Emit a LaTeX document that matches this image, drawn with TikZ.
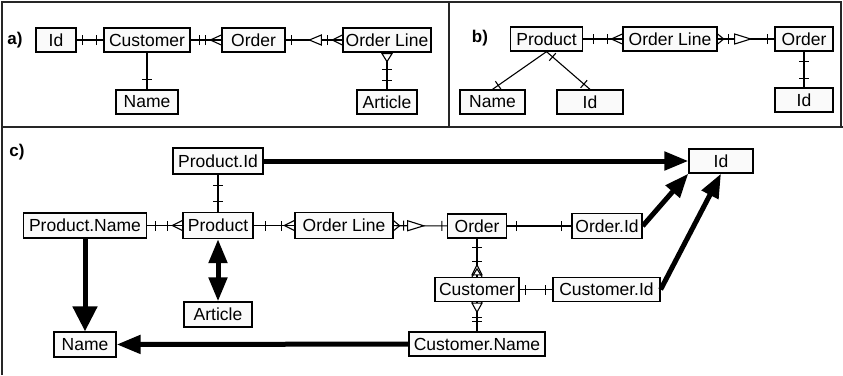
\documentclass[tikz,border=0pt]{standalone}
\usepackage{fontspec}
\setmainfont{Liberation Sans}
\usetikzlibrary{arrows.meta,decorations.markings}
\begin{document}
\begin{tikzpicture}[x=1pt,y=-1pt]
\tikzset{
  ent/.style={draw=black, line width=1.3pt, fill=black!2, inner sep=0pt,
    minimum height=24pt, font=\fontsize{17.5}{17.5}\selectfont},
  tag/.style={inner sep=0pt, font=\fontsize{17}{17}\selectfont\bfseries},
  frame/.style={line width=1.8pt, black!85},
  link/.style={line width=1.1pt},
  barmk/.style={postaction={decorate,decoration={markings,
    mark=at position #1 with {\draw[line width=1.1pt] (0pt,-5pt)--(0pt,5pt);}}}},
  crowend/.style={postaction={decorate,decoration={markings,
    mark=at position -#1 with {\draw[line width=1.1pt] (#1,5pt)--(0pt,0pt)--(#1,-5pt);}}}},
  crowstart/.style={postaction={decorate,decoration={markings,
    mark=at position #1 with {\draw[line width=1.1pt] (-#1,5pt)--(0pt,0pt)--(-#1,-5pt);}}}},
  trifwd/.style 2 args={postaction={decorate,decoration={markings,
    mark=at position #1 with {\draw[line width=1.1pt,fill=white] (0pt,0pt)--(-#2,5pt)--(-#2,-5pt)--cycle;}}}},
  tribwd/.style 2 args={postaction={decorate,decoration={markings,
    mark=at position #1 with {\draw[line width=1.1pt,fill=white] (0pt,0pt)--(#2,5pt)--(#2,-5pt)--cycle;}}}},
  heavy/.style={line width=5pt, -{Triangle[length=24pt,width=18pt]}},
}
\useasboundingbox (0,0) rectangle (843,375);
\fill[white] (0,0) rectangle (843,375);

% panel frame
\draw[frame] (2,375) -- (2,2) -- (841,2) -- (841,127);
\draw[frame] (2,127) -- (843,127);
\draw[frame] (449,2) -- (449,127);

% ---------- panel a ----------
\node[tag] (la) at (15,40) {a)};
\node[ent, minimum width=40pt] (aId) at (56,40) {Id};
\node[ent, minimum width=86pt] (aCust) at (147,40) {Customer};
\node[ent, minimum width=63pt] (aOrder) at (253.5,40) {Order};
\node[ent, minimum width=88pt] (aOL) at (387,40) {Order Line};
\node[ent, minimum width=62pt] (aName) at (147,102) {Name};
\node[ent, minimum width=60pt] (aArt) at (387,102) {Article};

\draw[link, barmk=6pt, barmk=-7pt] (aId) -- (aCust);
\draw[link, barmk=-22pt, barmk=-16pt, crowend=11pt] (aCust) -- (aOrder);
\draw[link, barmk=6pt, tribwd={-33pt}{12pt}, barmk=-15pt, crowend=10pt] (aOrder) -- (aOL);
\draw[link, crowstart=8pt, trifwd={9pt}{8pt}, barmk=17pt, barmk=-9pt] (aOL) -- (aArt);
\draw[link, barmk=-10pt] (aCust) -- (aName);

% ---------- panel b ----------
\node[tag] (lb) at (480,38) {b)};
\node[ent, minimum width=72pt] (bProd) at (546.5,39) {Product};
\node[ent, minimum width=94pt] (bOL) at (670,39) {Order Line};
\node[ent, minimum width=58pt] (bOrder) at (804,39) {Order};
\node[ent, minimum width=65pt] (bName) at (492.5,102) {Name};
\node[ent, minimum width=66pt] (bId1) at (590,102) {Id};
\node[ent, minimum width=58pt] (bId2) at (804,100) {Id};

\draw[link, barmk=10pt, barmk=-15pt, crowend=11pt] (bProd) -- (bOL);
\draw[link, crowstart=6pt, barmk=11pt, trifwd={33pt}{16pt}, barmk=-7pt] (bOL) -- (bOrder);
\draw[link, barmk=-7pt] (bProd.south) -- (bName.north);
\draw[link, barmk=8pt, barmk=-8pt] (bProd.south) -- (bId1.north);
\draw[link, barmk=10pt, barmk=-9pt] (bOrder) -- (bId2);

% ---------- panel c ----------
\node[tag] (lc) at (17,152) {c)};
\node[ent, minimum width=90pt, minimum height=26pt] (cPId) at (218,161) {Product.Id};
\node[ent, minimum width=64pt] (cId) at (721,161) {Id};
\node[ent, minimum width=123pt, minimum height=25pt] (cPName) at (85,225.5) {Product.Name};
\node[ent, minimum width=70pt, minimum height=26pt] (cProd) at (218,225.5) {Product};
\node[ent, minimum width=98pt, minimum height=26pt] (cOL) at (344,225.5) {Order Line};
\node[ent, minimum width=59pt] (cOrder) at (477,226) {Order};
\node[ent, minimum width=70pt, minimum height=25pt] (cOId) at (607,226) {Order.Id};
\node[ent, minimum width=84pt] (cCust) at (477,289.5) {Customer};
\node[ent, minimum width=107pt] (cCId) at (606.5,289.5) {Customer.Id};
\node[ent, minimum width=136pt] (cCName) at (477,344) {Customer.Name};
\node[ent, minimum width=68pt, minimum height=25pt] (cArt) at (218,314.5) {Article};
\node[ent, minimum width=62pt, minimum height=25pt] (cName) at (85,344.5) {Name};

\draw[link, barmk=11pt, barmk=-10pt] (cPId) -- (cProd);
\draw[link, barmk=8pt, barmk=-15pt, crowend=10pt] (cPName) -- (cProd);
\draw[link, barmk=12pt, barmk=-13pt, crowend=10pt] (cProd) -- (cOL);
\draw[link, crowstart=6pt, barmk=10pt, trifwd={30pt}{16pt}, barmk=-5pt] (cOL) -- (cOrder);
\draw[link, barmk=9pt, barmk=-10pt] (cOrder) -- (cOId);
\draw[link, barmk=9pt, barmk=23pt, tribwd={-12pt}{10pt}, crowend=8pt] (cOrder) -- (cCust);
\draw[link, crowstart=8pt, trifwd={10pt}{9pt}, barmk=15pt, barmk=19pt] (cCust) -- (cCName);
\draw[link, barmk=6pt, barmk=-7pt] (cCust) -- (cCId);

% heavy mapping arrows
\draw[heavy] (cPId) -- (cId);
\draw[heavy] (cOId.east) -- (cId.south west);
\draw[heavy] (cCId.east) -- (cId.south);
\draw[heavy, -{Triangle[length=25pt,width=24pt]}] (cPName) -- (cName);
\draw[heavy] (cCName) -- (cName);
\draw[heavy, {Triangle[length=24pt,width=18pt]}-{Triangle[length=24pt,width=18pt]}] (cProd) -- (cArt);
\end{tikzpicture}
\end{document}
